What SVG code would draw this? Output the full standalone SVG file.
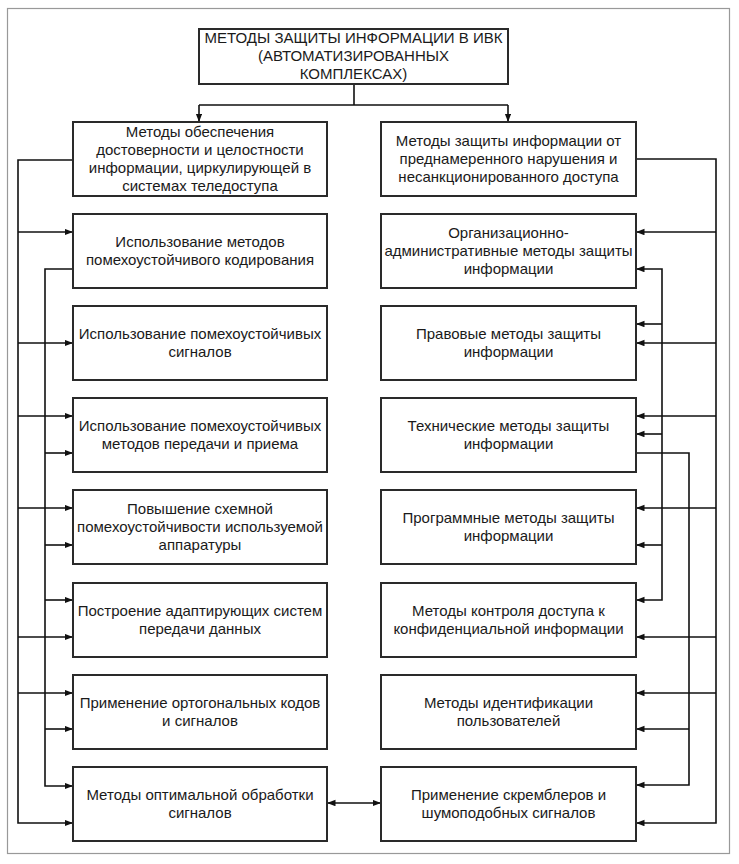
<svg xmlns="http://www.w3.org/2000/svg" width="739" height="864" viewBox="0 0 739 864">
<defs>
<marker id="ah" markerWidth="9" markerHeight="7" refX="8.5" refY="3.25" orient="auto-start-reverse" markerUnits="userSpaceOnUse">
<path d="M0,0 L8.5,3.25 L0,6.5 z" fill="#111"/>
</marker>
<style>
.frame{fill:#fff;stroke:#999;stroke-width:1.2}
.box{fill:#fff;stroke:#2a2a2a;stroke-width:2}
.t{font-family:"Liberation Sans",Arial,sans-serif;font-size:15px;fill:#1a1a1a;text-anchor:middle}
.c{fill:none;stroke:#111;stroke-width:1.6}
.a{fill:none;stroke:#111;stroke-width:1.6;marker-end:url(#ah)}
.b{fill:none;stroke:#111;stroke-width:1.6;marker-start:url(#ah);marker-end:url(#ah)}
</style>
</defs>
<rect x="0" y="0" width="739" height="864" fill="#fff"/>
<rect class="frame" x="7.5" y="8.5" width="722" height="845"/>

<g id="connectors">
<path class="c" d="M354,84 V105 M199,105 H508"/>
<path class="a" d="M199,105 V122"/>
<path class="a" d="M508,105 V122"/>
<path class="a" d="M73,160 H18 V823 H73"/>
<path class="a" d="M18,232 H73"/>
<path class="a" d="M18,343 H73"/>
<path class="a" d="M18,416 H73"/>
<path class="a" d="M18,508 H73"/>
<path class="a" d="M18,637 H73"/>
<path class="a" d="M18,693 H73"/>
<path class="a" d="M73,269 H45 V786 H73"/>
<path class="a" d="M45,453 H73"/>
<path class="a" d="M45,545 H73"/>
<path class="a" d="M45,600 H73"/>
<path class="a" d="M45,729 H73"/>
<path class="a" d="M636,159 H716 V823 H636"/>
<path class="a" d="M716,232 H636"/>
<path class="a" d="M716,343 H636"/>
<path class="a" d="M716,416 H636"/>
<path class="a" d="M716,508 H636"/>
<path class="a" d="M716,637 H636"/>
<path class="a" d="M716,693 H636"/>
<path class="b" d="M636,269 H662 V600 H636"/>
<path class="a" d="M662,324 H636"/>
<path class="a" d="M662,434 H636"/>
<path class="a" d="M662,545 H636"/>
<path class="a" d="M636,453 H689 V785 H636"/>
<path class="a" d="M689,729 H636"/>
<path class="b" d="M327,803 H381"/>
</g>

<g id="root">
<rect class="box" x="199" y="29" width="309" height="55"/>
<text class="t" x="353.5" y="43">МЕТОДЫ ЗАЩИТЫ ИНФОРМАЦИИ В ИВК</text>
<text class="t" x="353.5" y="61">(АВТОМАТИЗИРОВАННЫХ</text>
<text class="t" x="353.5" y="79">КОМПЛЕКСАХ)</text>
</g>

<g id="left-head">
<rect class="box" x="73" y="122" width="254" height="74"/>
<text class="t" x="200" y="137">Методы обеспечения</text>
<text class="t" x="200" y="155">достоверности и целостности</text>
<text class="t" x="200" y="173">информации, циркулирующей в</text>
<text class="t" x="200" y="191">системах теледоступа</text>
</g>

<g id="right-head">
<rect class="box" x="381" y="122" width="255" height="74"/>
<text class="t" x="508.5" y="146">Методы защиты информации от</text>
<text class="t" x="508.5" y="164">преднамеренного нарушения и</text>
<text class="t" x="508.5" y="182">несанкционированного доступа</text>
</g>

<g id="l1">
<rect class="box" x="73" y="214" width="254" height="74"/>
<text class="t" x="200" y="247">Использование методов</text>
<text class="t" x="200" y="265">помехоустойчивого кодирования</text>
</g>
<g id="l2">
<rect class="box" x="73" y="306" width="254" height="74"/>
<text class="t" x="200" y="339">Использование помехоустойчивых</text>
<text class="t" x="200" y="357">сигналов</text>
</g>
<g id="l3">
<rect class="box" x="73" y="398" width="254" height="74"/>
<text class="t" x="200" y="431">Использование помехоустойчивых</text>
<text class="t" x="200" y="449">методов передачи и приема</text>
</g>
<g id="l4">
<rect class="box" x="73" y="490" width="254" height="74"/>
<text class="t" x="200" y="514">Повышение схемной</text>
<text class="t" x="200" y="532">помехоустойчивости используемой</text>
<text class="t" x="200" y="550">аппаратуры</text>
</g>
<g id="l5">
<rect class="box" x="73" y="583" width="254" height="74"/>
<text class="t" x="200" y="616">Построение адаптирующих систем</text>
<text class="t" x="200" y="634">передачи данных</text>
</g>
<g id="l6">
<rect class="box" x="73" y="675" width="254" height="74"/>
<text class="t" x="200" y="708">Применение ортогональных кодов</text>
<text class="t" x="200" y="726">и сигналов</text>
</g>
<g id="l7">
<rect class="box" x="73" y="767" width="254" height="74"/>
<text class="t" x="200" y="800">Методы оптимальной обработки</text>
<text class="t" x="200" y="818">сигналов</text>
</g>

<g id="r1">
<rect class="box" x="381" y="214" width="255" height="74"/>
<text class="t" x="508.5" y="238">Организационно-</text>
<text class="t" x="508.5" y="256">административные методы защиты</text>
<text class="t" x="508.5" y="274">информации</text>
</g>
<g id="r2">
<rect class="box" x="381" y="306" width="255" height="74"/>
<text class="t" x="508.5" y="339">Правовые методы защиты</text>
<text class="t" x="508.5" y="357">информации</text>
</g>
<g id="r3">
<rect class="box" x="381" y="398" width="255" height="74"/>
<text class="t" x="508.5" y="431">Технические методы защиты</text>
<text class="t" x="508.5" y="449">информации</text>
</g>
<g id="r4">
<rect class="box" x="381" y="490" width="255" height="74"/>
<text class="t" x="508.5" y="523">Программные методы защиты</text>
<text class="t" x="508.5" y="541">информации</text>
</g>
<g id="r5">
<rect class="box" x="381" y="583" width="255" height="74"/>
<text class="t" x="508.5" y="616">Методы контроля доступа к</text>
<text class="t" x="508.5" y="634">конфиденциальной информации</text>
</g>
<g id="r6">
<rect class="box" x="381" y="675" width="255" height="74"/>
<text class="t" x="508.5" y="708">Методы идентификации</text>
<text class="t" x="508.5" y="726">пользователей</text>
</g>
<g id="r7">
<rect class="box" x="381" y="767" width="255" height="74"/>
<text class="t" x="508.5" y="800">Применение скремблеров и</text>
<text class="t" x="508.5" y="818">шумоподобных сигналов</text>
</g>
</svg>
